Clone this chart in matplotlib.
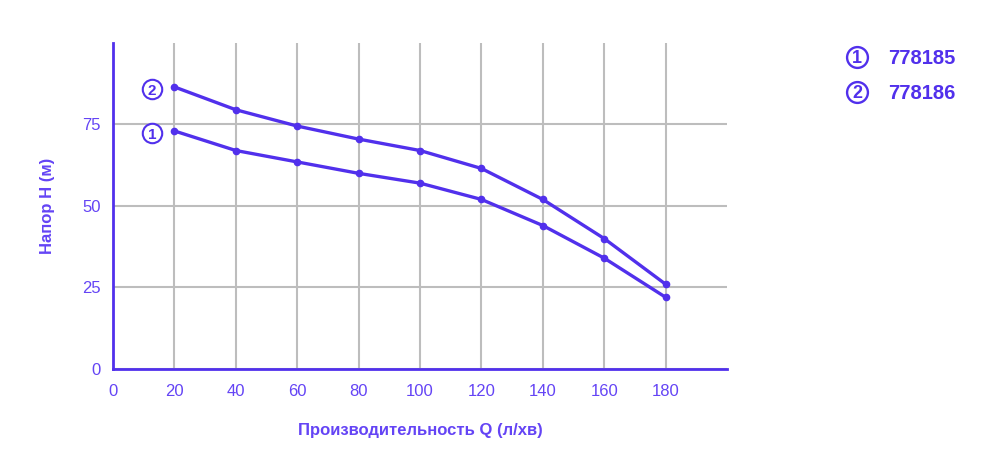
import matplotlib
matplotlib.use('Agg')
import matplotlib.pyplot as plt

# pump curves
flow = [20, 40, 60, 80, 100, 120, 140, 160, 180]
head_778185 = [73, 67, 63.5, 60, 57, 52, 44, 34, 22]
head_778186 = [86.5, 79.5, 74.5, 70.5, 67, 61.5, 52, 40, 26]
models = ['778185', '778186']
x_ticks = [0, 20, 40, 60, 80, 100, 120, 140, 160, 180]
y_ticks = [0, 25, 50, 75]

line_col = '#5130ec'
text_col = '#6444f5'
grid_col = '#bdbdbd'

plt.rcParams['font.family'] = ['Liberation Sans', 'DejaVu Sans']

fig = plt.figure(figsize=(10, 4.74), dpi=100)
ax = fig.add_axes([0.113, 0.2215, 0.614, 0.688])

for heads in (head_778185, head_778186):
    ax.plot(flow, heads, color=line_col, lw=2.4, marker='o', ms=4.5,
            solid_capstyle='round', zorder=3)

ax.set_xlim(0, 200)
ax.set_ylim(0, 100)
ax.set_xticks(x_ticks)
ax.set_yticks(y_ticks)
ax.tick_params(length=0, labelsize=12, labelcolor=text_col)
ax.tick_params(axis='x', pad=11)
ax.tick_params(axis='y', pad=9)
ax.grid(True, color=grid_col, lw=1.5)
ax.set_axisbelow(True)
for s in ('top', 'right'):
    ax.spines[s].set_visible(False)
for s in ('left', 'bottom'):
    ax.spines[s].set_color(line_col)
    ax.spines[s].set_linewidth(2)

ax.set_xlabel('Производительность Q (л/хв)', fontsize=12, fontweight='bold',
              color=text_col, labelpad=17)
ax.set_ylabel('Напор Н (м)', fontsize=12, fontweight='bold',
              color=text_col, labelpad=19)

# numbers next to the curve starts
for i, heads in enumerate((head_778185, head_778186)):
    ax.plot(12.7, heads[0] - 0.7, 'o', ms=14, mfc='white', mec=line_col,
            mew=1.5, clip_on=False, zorder=4)
    ax.text(12.7, heads[0] - 0.7, str(i + 1), ha='center', va='center_baseline',
            fontsize=11, fontweight='bold', color=line_col, zorder=5)

# legend on the right
for i, name in enumerate(models):
    y = 0.880 - i * 0.074
    fig.lines.append(plt.Line2D([0.857], [y], marker='o', ms=15, mfc='white',
                                mec=line_col, mew=1.7, transform=fig.transFigure))
    fig.text(0.857, y, str(i + 1), ha='center', va='center_baseline',
             fontsize=13, fontweight='bold', color=line_col)
    fig.text(0.888, y, name, ha='left', va='center_baseline', fontsize=14.5,
             fontweight='bold', color=line_col)

fig.savefig('out.png', dpi=100)
